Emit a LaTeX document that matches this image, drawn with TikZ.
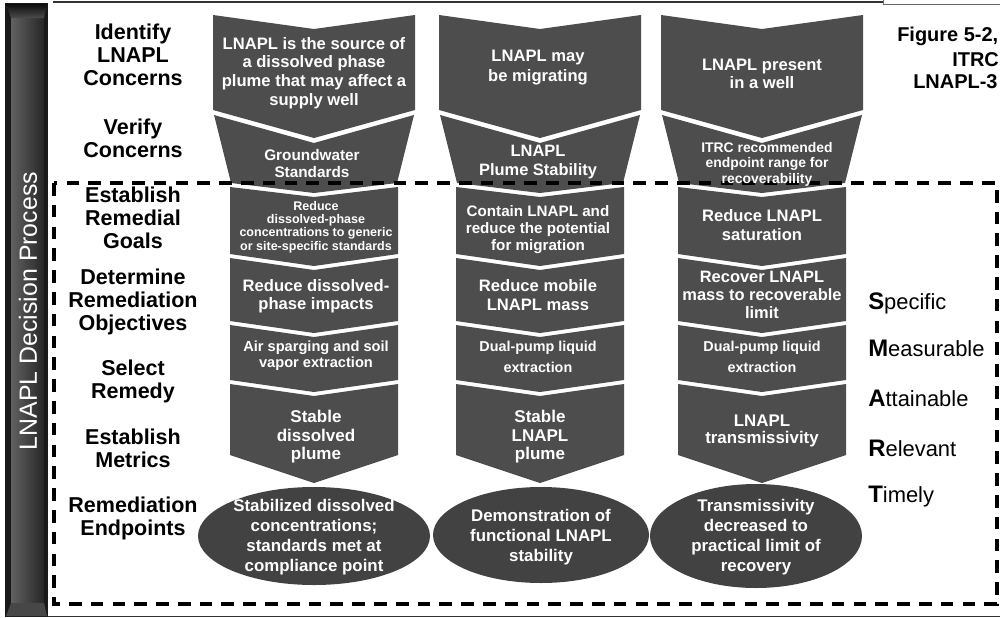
\documentclass[tikz,border=0pt]{standalone}
\usepackage{fontspec}
\setmainfont{Liberation Sans}

\definecolor{blockgray}{RGB}{77,77,77}
\definecolor{endgray}{RGB}{66,66,66}

\begin{document}
\begin{tikzpicture}[x=0.025cm, y=-0.025cm,
  blk/.style={fill=blockgray},
  endpt/.style={fill=endgray},
  lab/.style={font=\fontsize{15.3}{16.4}\selectfont\bfseries, align=center, inner sep=0pt},
  btxt/.style 2 args={text=white, align=center, inner sep=0pt,
                      font=\fontsize{#1}{#2}\selectfont\bfseries},
  smart/.style={anchor=west, inner sep=0pt, font=\fontsize{15.6}{16}\selectfont},
  figlab/.style={anchor=west, inner sep=0pt, font=\fontsize{14.2}{16}\selectfont\bfseries},
  frame/.style={line width=1.4pt, black!80},
  dashbox/.style={line width=2.2pt, dash pattern=on 9pt off 6.5pt}
]
\useasboundingbox (0,0) rectangle (1000,618);

% Outer frame lines
\draw[frame] (53,2) -- (883,2);
\draw[black!60, line width=0.6pt] (883,0) -- (883,4) -- (1000,4);
\draw[black!80, line width=0.8pt] (48,616.5) -- (1000,616.5);

% Side bar
\fill[black!90] (5,3) rectangle (48,617);
\shade[left color=black!62, right color=black!85] (11,18) rectangle (44,603);
\shade[top color=black!95, bottom color=black!70] (6,4) -- (47,4) -- (44,18) -- (11,18) -- cycle;
\fill[black!72] (6,616) -- (47,616) -- (44,603) -- (11,603) -- cycle;
\node[rotate=90, text=white, inner sep=0pt, font=\fontsize{17.7}{18}\selectfont]
  (bar) at (28,311) {LNAPL Decision Process};

% Column 1 blocks
\fill[blk] (213,15) -- (314,29) -- (415,15) -- (415,110) -- (314,138) -- (213,110) -- cycle;
\fill[blk] (214,115) -- (314,143) -- (414,115) -- (397,183) -- (314,193) -- (231,183) -- cycle;
\fill[blk] (230,187) -- (314,197) -- (398,187) -- (398,254) -- (314,266) -- (230,254) -- cycle;
\fill[blk] (230,258) -- (314,270) -- (398,258) -- (398,321) -- (314,333) -- (230,321) -- cycle;
\fill[blk] (230,325) -- (314,337) -- (398,325) -- (398,380) -- (314,392) -- (230,380) -- cycle;
\fill[blk] (230,384) -- (314,396) -- (398,384) -- (398,455) -- (314,483) -- (230,455) -- cycle;
\fill[endpt] (314,536) ellipse [x radius=116, y radius=49];

% Column 2 blocks
\fill[blk] (439,15) -- (540,29) -- (641,15) -- (641,110) -- (540,138) -- (439,110) -- cycle;
\fill[blk] (440,115) -- (540,143) -- (640,115) -- (623,183) -- (540,193) -- (457,183) -- cycle;
\fill[blk] (456,187) -- (540,197) -- (624,187) -- (624,254) -- (540,266) -- (456,254) -- cycle;
\fill[blk] (456,258) -- (540,270) -- (624,258) -- (624,321) -- (540,333) -- (456,321) -- cycle;
\fill[blk] (456,325) -- (540,337) -- (624,325) -- (624,380) -- (540,392) -- (456,380) -- cycle;
\fill[blk] (456,384) -- (540,396) -- (624,384) -- (624,455) -- (540,483) -- (456,455) -- cycle;
\fill[endpt] (541,535) ellipse [x radius=108, y radius=48];

% Column 3 blocks
\fill[blk] (661,15) -- (762,29) -- (863,15) -- (863,110) -- (762,138) -- (661,110) -- cycle;
\fill[blk] (662,115) -- (762,143) -- (862,115) -- (845,183) -- (762,193) -- (679,183) -- cycle;
\fill[blk] (678,187) -- (762,197) -- (846,187) -- (846,254) -- (762,266) -- (678,254) -- cycle;
\fill[blk] (678,258) -- (762,270) -- (846,258) -- (846,321) -- (762,333) -- (678,321) -- cycle;
\fill[blk] (678,325) -- (762,337) -- (846,325) -- (846,380) -- (762,392) -- (678,380) -- cycle;
\fill[blk] (678,384) -- (762,396) -- (846,384) -- (846,455) -- (762,483) -- (678,455) -- cycle;
\fill[endpt] (756,536) ellipse [x radius=106, y radius=52];

% Dashed frame
\draw[dashbox] (54,183) rectangle (997,604);

% Step labels
\node[lab] (lid)   at (133,55)  {Identify\\LNAPL\\Concerns};
\node[lab] (lver)  at (133,138) {Verify\\Concerns};
\node[lab] (lgoal) at (133,218) {Establish\\Remedial\\Goals};
\node[lab] (lobj)  at (133,302) {Determine\\Remediation\\Objectives};
\node[lab] (lrem)  at (133,381) {Select\\Remedy};
\node[lab] (lmet)  at (133,448) {Establish\\Metrics};
\node[lab] (lend)  at (133,518) {Remediation\\Endpoints};

% Column 1 texts
\node[btxt={11.8}{13.4}] (p1) at (314,73)  {LNAPL is the source of\\a dissolved phase\\plume that may affect a\\supply well};
\node[btxt={10.9}{12.1}] (p2) at (312,164) {Groundwater\\Standards};
\node[btxt={8.9}{9.5}]   (p3) at (316,227) {Reduce\\dissolved-phase\\concentrations to generic\\or site-specific standards};
\node[btxt={11.8}{13}]   (p4) at (316,296) {Reduce dissolved-\\phase impacts};
\node[btxt={10.4}{11.2}] (p5) at (316,356) {Air sparging and soil\\vapor extraction};
\node[btxt={12.1}{13.2}] (p6) at (316,437) {Stable\\dissolved\\plume};
\node[btxt={12}{14.2}]   (end1) at (314,537) {Stabilized dissolved\\concentrations;\\standards met at\\compliance point};

% Column 2 texts
\node[btxt={11.8}{14.2}] (q1) at (538,68)  {LNAPL may\\be migrating};
\node[btxt={11.7}{13.5}] (q2) at (538,162) {LNAPL\\Plume Stability};
\node[btxt={10.8}{12.1}] (q3) at (538,230) {Contain LNAPL and\\reduce the potential\\for migration};
\node[btxt={11.8}{13}]   (q4) at (538,295) {Reduce mobile\\LNAPL mass};
\node[btxt={10.2}{15}]   (q5) at (538,357) {Dual-pump liquid\\extraction};
\node[btxt={12.1}{13.2}] (q6) at (540,437) {Stable\\LNAPL\\plume};
\node[btxt={12}{14.2}]   (end2) at (541,537) {Demonstration of\\functional LNAPL\\stability};

% Column 3 texts
\node[btxt={11.8}{13}]   (r1) at (762,74)  {LNAPL present\\in a well};
\node[btxt={9.9}{11}]    (r2) at (767,164) {ITRC recommended\\endpoint range for\\recoverability};
\node[btxt={11.8}{13.2}] (r3) at (762,225) {Reduce LNAPL\\saturation};
\node[btxt={11.7}{12.8}] (r4) at (762,295) {Recover LNAPL\\mass to recoverable\\limit};
\node[btxt={10.2}{15}]   (r5) at (762,357) {Dual-pump liquid\\extraction};
\node[btxt={12}{12.5}]   (r6) at (762,431) {LNAPL\\transmissivity};
\node[btxt={12}{14.2}]   (end3) at (756,537) {Transmissivity\\decreased to\\practical limit of\\recovery};

% SMART
\node[smart] (sm1) at (868,303) {{\fontsize{17}{17}\selectfont\bfseries S}pecific};
\node[smart] (sm2) at (868,348) {{\fontsize{17}{17}\selectfont\bfseries M}easurable};
\node[smart] (sm3) at (868,398) {{\fontsize{17}{17}\selectfont\bfseries A}ttainable};
\node[smart] (sm4) at (868,448) {{\fontsize{17}{17}\selectfont\bfseries R}elevant};
\node[smart] (sm5) at (868,497) {{\fontsize{17}{17}\selectfont\bfseries T}imely};

% Figure caption (cut at the edge)
\node[figlab] (fig1) at (897,36) {Figure 5-2,};
\node[figlab] (fig2) at (952,60) {ITRC};
\node[figlab] (fig3) at (913,82) {LNAPL-3};

\end{tikzpicture}
\end{document}
